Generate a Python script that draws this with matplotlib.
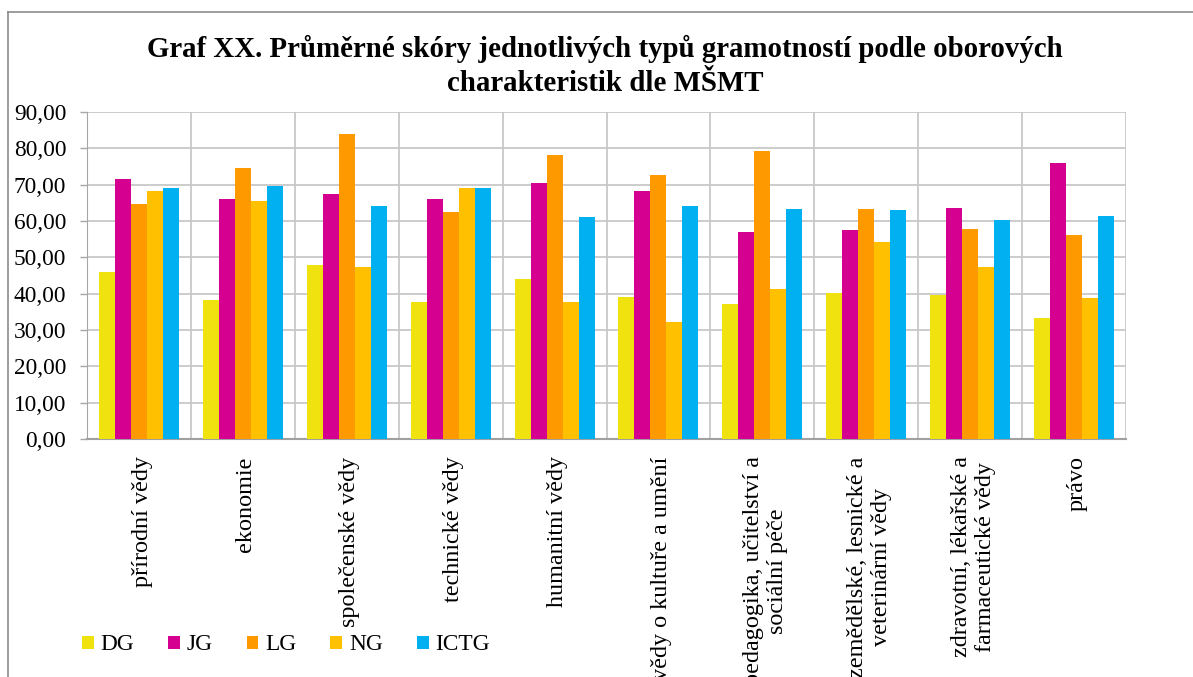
import matplotlib
matplotlib.use("Agg")
import matplotlib.pyplot as plt
from matplotlib.lines import Line2D
from matplotlib.patches import Patch
from matplotlib.ticker import FuncFormatter, FixedLocator
import numpy as np

categories = [
    "přírodní vědy",
    "ekonomie",
    "společenské vědy",
    "technické vědy",
    "humanitní vědy",
    "vědy o kultuře a umění",
    "pedagogika, učitelství a\nsociální péče",
    "zemědělské, lesnické a\nveterinární vědy",
    "zdravotní, lékařské a\nfarmaceutické vědy",
    "právo",
]
series_names = ["DG", "JG", "LG", "NG", "ICTG"]
DG = [45.9, 38.3, 47.9, 37.6, 44.1, 39.2, 37.2, 40.1, 39.7, 33.3]
JG = [71.5, 66.0, 67.4, 66.1, 70.5, 68.3, 57.0, 57.5, 63.7, 75.9]
LG = [64.6, 74.7, 83.9, 62.5, 78.1, 72.6, 79.2, 63.4, 57.8, 56.1]
NG = [68.3, 65.4, 47.3, 69.1, 37.8, 32.1, 41.4, 54.3, 47.4, 38.7]
ICTG = [69.1, 69.6, 64.2, 69.0, 61.1, 64.2, 63.3, 63.0, 60.3, 61.5]
series = [DG, JG, LG, NG, ICTG]
colors = ["#F0E20F", "#D5008F", "#FF9900", "#FFC000", "#00B0F0"]
yticks = [0, 10, 20, 30, 40, 50, 60, 70, 80, 90]
title = "Graf XX. Průměrné skóry jednotlivých typů gramotností podle oborových\ncharakteristik dle MŠMT"

plt.rcParams['font.family'] = ['Liberation Serif', 'DejaVu Serif']
FS = 16.8

W, H = 1193, 677
fig = plt.figure(figsize=(W / 100, H / 100), dpi=100)
ax = fig.add_axes([87 / W, 1 - 439 / H, (1126 - 87) / W, (439 - 112) / H])

n = len(categories)
x = np.arange(n)
bw = 0.154
for j, (vals, c) in enumerate(zip(series, colors)):
    ax.bar(x + (j - 2) * bw, vals, width=bw, color=c, edgecolor='none', zorder=3, label=series_names[j])

ax.set_xlim(-0.5, n - 0.5)
ax.set_ylim(0, 90)
ax.set_yticks(yticks)
ax.yaxis.set_major_formatter(FuncFormatter(lambda v, p: f"{v:.2f}".replace('.', ',')))
ax.tick_params(axis='y', length=5, width=1, color='#A6A6A6', pad=10, labelsize=FS)
ax.set_xticks(x + 0.03)
ax.set_xticklabels(categories, rotation=90, fontsize=17.4, ha='center', va='top', multialignment='center')
ax.tick_params(axis='x', length=0, pad=12.5)
ax.xaxis.set_minor_locator(FixedLocator(np.arange(-0.5, n, 1.0)))
ax.tick_params(axis='x', which='minor', length=0)
ax.grid(axis='y', which='major', color='#C8C8C8', linewidth=1.3, zorder=0)
ax.grid(axis='x', which='minor', color='#C8C8C8', linewidth=1.3, zorder=0)
ax.grid(axis='x', which='major', visible=False)
for s in ['top', 'right']:
    ax.spines[s].set_visible(False)
ax.spines['left'].set_color('#A6A6A6')
ax.spines['bottom'].set_color('#A0A0A0')
ax.spines['bottom'].set_linewidth(1.5)
ax.set_axisbelow(True)

fig.text(0.507, 1 - 66 / H, title, ha='center', va='center', fontsize=20.8, fontweight='bold', linespacing=1.32)

# chart frame
fig.add_artist(Line2D([8 / W, 1.0], [1 - 12 / H, 1 - 12 / H], transform=fig.transFigure, color='#8C8C8C', lw=1.2))
fig.add_artist(Line2D([8 / W, 8 / W], [0, 1 - 12 / H], transform=fig.transFigure, color='#8C8C8C', lw=1.2))

handles = [Patch(facecolor=c, edgecolor='none', label=nm) for c, nm in zip(colors, series_names)]
fig.legend(handles=handles, loc='center', bbox_to_anchor=(286 / W, 1 - 645 / H), ncol=5, frameon=False,
           fontsize=FS, handlelength=0.5, handleheight=0.5, handletextpad=0.3, columnspacing=1.45)

fig.savefig("out.png", dpi=100)
